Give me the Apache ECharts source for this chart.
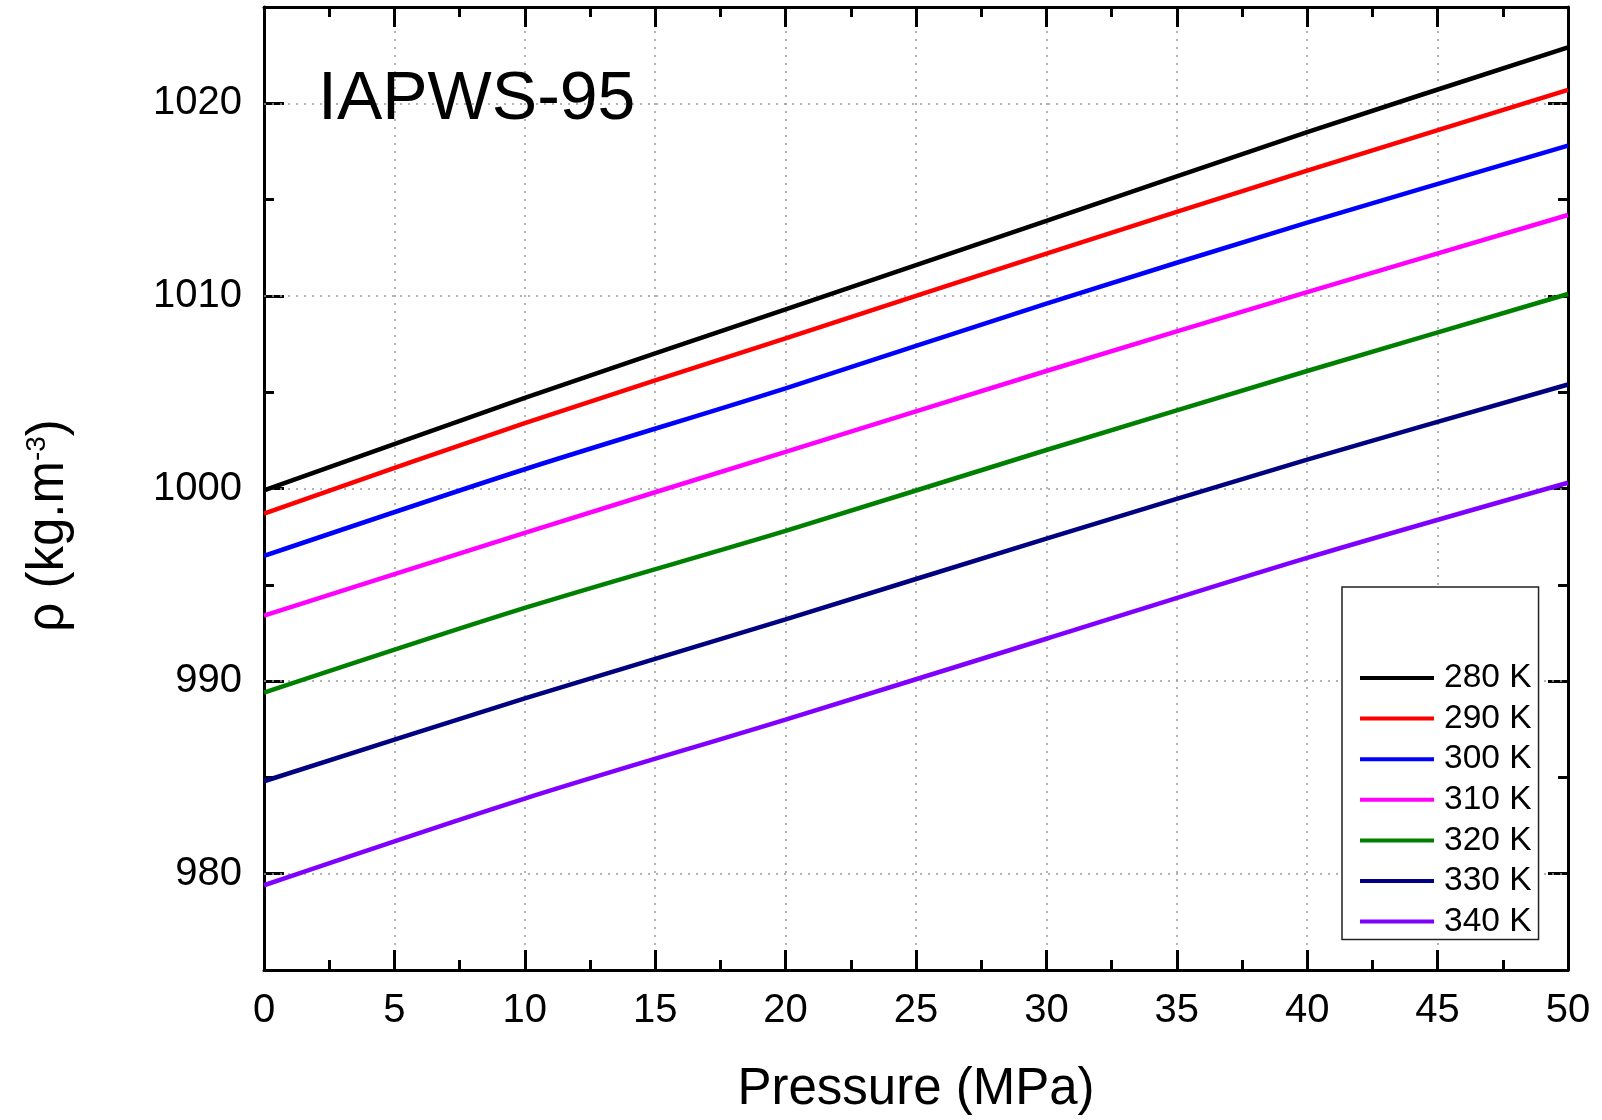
<!DOCTYPE html>
<html>
<head>
<meta charset="utf-8">
<title>IAPWS-95</title>
<script src="https://cdn.jsdelivr.net/npm/echarts@6/dist/echarts.min.js"></script>
<style>
    html, body { margin: 0; padding: 0; background: #fff; }
    #chart { width: 1602px; height: 1120px; }
</style>
</head>
<body>
<div id="chart"></div>
<script>
'use strict';

// pressure (MPa) and density (kg/m3)
var pressure = [0, 10, 20, 30, 40, 50];
var names = ['280 K', '290 K', '300 K', '310 K', '320 K', '330 K', '340 K'];
var rho280 = [999.9, 1004.7, 1009.3, 1013.9, 1018.5, 1022.9];
var rho290 = [998.7, 1003.4, 1007.8, 1012.2, 1016.5, 1020.7];
var rho300 = [996.5, 1001.0, 1005.2, 1009.6, 1013.8, 1017.8];
var rho310 = [993.4, 997.7, 1001.9, 1006.1, 1010.2, 1014.2];
var rho320 = [989.4, 993.8, 997.8, 1002.0, 1006.1, 1010.1];
var rho330 = [984.8, 989.1, 993.2, 997.4, 1001.5, 1005.4];
var rho340 = [979.4, 983.9, 988.0, 992.2, 996.4, 1000.3];
var colors = ['#000000', '#ff0000', '#0000ff', '#ff00ff', '#008000', '#000080', '#8000ff'];
var yMajor = [980, 990, 1000, 1010, 1020];

var FONT = '"Liberation Sans", Arial, sans-serif';
var chart = echarts.init(document.getElementById('chart'));

var blackLine = { lineStyle: { color: '#000', width: 3 }, onZero: false };
var dotted = { color: '#9a9a9a', type: [2, 6], width: 1.5 };

function pairs(arr) {
    return pressure.map(function(p, i) { return [p, arr[i]]; });
}

var series = [rho280, rho290, rho300, rho310, rho320, rho330, rho340].map(function(arr, i) {
    var s = {
        name: names[i],
        type: 'line',
        data: pairs(arr),
        symbol: 'none',
        smooth: 0.3,
        lineStyle: { width: 4.5, color: colors[i] },
        itemStyle: { color: colors[i] },
        z: 3
    };
    if (i === 0) {
        // horizontal grid at the labelled density ticks
        s.markLine = {
            silent: true,
            symbol: 'none',
            z: 1,
            label: { show: false },
            lineStyle: dotted,
            data: yMajor.map(function(v) { return { yAxis: v }; })
        };
    }
    return s;
});

function xAxis(pos, withLabels) {
    return {
        type: 'value',
        position: pos,
        min: 0,
        max: 50,
        interval: 5,
        axisLine: blackLine,
        axisTick: { inside: true, length: 20, lineStyle: { color: '#000', width: 3 } },
        minorTick: { show: true, splitNumber: 2, length: 10, lineStyle: { color: '#000', width: 3 } },
        axisLabel: { show: withLabels, fontSize: 40, color: '#000', margin: 21, fontFamily: FONT },
        splitLine: { show: withLabels, lineStyle: dotted },
        name: withLabels ? 'Pressure (MPa)' : '',
        nameLocation: 'middle',
        nameGap: 94,
        nameTextStyle: { fontSize: 51, color: '#000', fontFamily: FONT }
    };
}

function yMinor(pos, withLabels) {
    var ax = {
        type: 'value',
        position: pos,
        min: 975,
        max: 1025,
        interval: 5,
        axisLine: blackLine,
        axisTick: { inside: true, length: 10, lineStyle: { color: '#000', width: 3 } },
        axisLabel: {
            show: withLabels,
            fontSize: 40,
            color: '#000',
            margin: 22,
            fontFamily: FONT,
            formatter: function(v) { return v % 10 === 0 ? String(v) : ''; }
        },
        splitLine: { show: false }
    };
    if (withLabels) {
        ax.name = 'ρ (kg.m{sup|-3})';
        ax.nameLocation = 'middle';
        ax.nameGap = 190;
        ax.nameTextStyle = {
            fontSize: 51,
            color: '#000',
            fontFamily: FONT,
            padding: [0, 74, 0, 0],
            rich: { sup: { fontSize: 28, fontFamily: FONT, color: '#000', lineHeight: 8, verticalAlign: 'top' } }
        };
    }
    return ax;
}

function yMajorTicks(pos) {
    return {
        type: 'value',
        position: pos,
        min: 975,
        max: 1025,
        interval: 5,
        axisLine: { show: false, onZero: false },
        axisTick: { inside: true, length: 20, customValues: yMajor, lineStyle: { color: '#000', width: 3 } },
        axisLabel: { show: false },
        splitLine: { show: false }
    };
}

var option = {
    animation: false,
    backgroundColor: '#fff',
    textStyle: { fontFamily: FONT },
    grid: { left: 264, right: 34, top: 7, bottom: 150, containLabel: false },
    xAxis: [xAxis('bottom', true), xAxis('top', false)],
    yAxis: [yMinor('left', true), yMajorTicks('left'), yMinor('right', false), yMajorTicks('right')],
    legend: {
        data: names,
        orient: 'vertical',
        left: 1342,
        top: 587,
        icon: 'rect',
        itemWidth: 74,
        itemHeight: 4,
        itemGap: 6.6,
        padding: [74, 7, 1, 18],
        backgroundColor: '#fff',
        borderColor: '#222',
        borderWidth: 1.5,
        borderRadius: 0,
        textStyle: { fontSize: 33.5, lineHeight: 32, color: '#000', fontFamily: FONT, padding: [0, 0, 0, 5] }
    },
    graphic: [{
        type: 'text',
        left: 318,
        top: 66,
        z: 10,
        style: { text: 'IAPWS-95', fontSize: 68, fontFamily: FONT, fill: '#000' }
    }],
    series: series
};

chart.setOption(option);
</script>
</body>
</html>
